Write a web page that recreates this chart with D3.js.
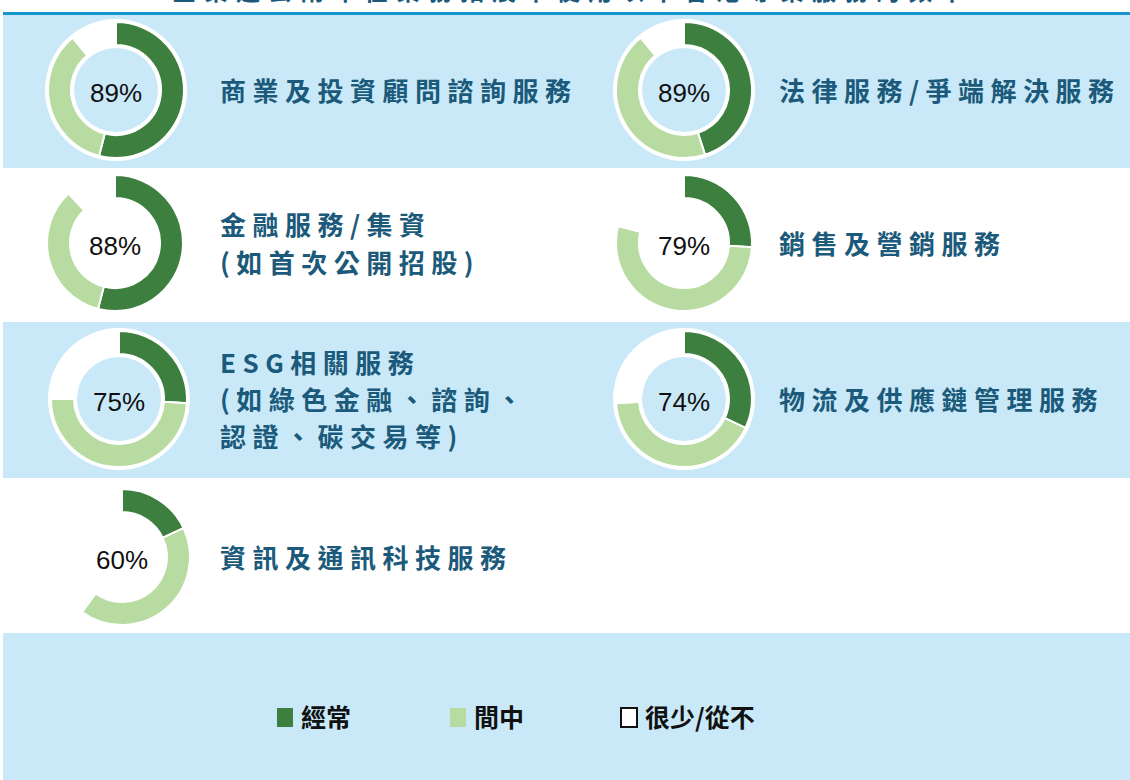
<!DOCTYPE html>
<html>
<head>
<meta charset="utf-8">
<script src="https://cdn.jsdelivr.net/npm/d3@7/dist/d3.min.js"></script>
<style>
  html, body { margin: 0; padding: 0; background: #ffffff; }
  svg { display: block; }
</style>
</head>
<body>
<svg id="chart" width="1130" height="780"></svg>
<script>
// ---- data ----
const title = "企業過去兩年在業務拓展中使用以下香港專業服務的頻率";
const categories = [
  "商業及投資顧問諮詢服務",
  "法律服務/爭端解決服務",
  "金融服務/集資\n(如首次公開招股)",
  "銷售及營銷服務",
  "ESG相關服務\n(如綠色金融、諮詢、\n認證、碳交易等)",
  "物流及供應鏈管理服務",
  "資訊及通訊科技服務"
];
const frequent   = [54, 45, 54, 26, 26, 32, 18];   // 經常
const occasional = [35, 44, 34, 53, 49, 42, 42];   // 間中
const rarely     = [11, 11, 12, 21, 25, 26, 40];   // 很少/從不
const totalLabels = ["89%", "89%", "88%", "79%", "75%", "74%", "60%"];
const seriesNames = ["經常", "間中", "很少/從不"];

// ---- style ----
const colors = ["#3d7f3e", "#b8dba2", "#ffffff"];
const bandBlue = "#c9e9f8";
const labelColor = "#1b5a7a";

const svg = d3.select("#chart");
const W = 1130, H = 780;

// row bands
const bands = [
  {y0: 15, y1: 168, fill: bandBlue},
  {y0: 168, y1: 322, fill: "#ffffff"},
  {y0: 322, y1: 478, fill: bandBlue},
  {y0: 478, y1: 633, fill: "#ffffff"},
  {y0: 633, y1: 780, fill: bandBlue}
];
svg.selectAll("rect.band").data(bands).join("rect")
  .attr("class", "band")
  .attr("x", 3).attr("y", d => d.y0)
  .attr("width", W - 3).attr("height", d => d.y1 - d.y0)
  .attr("fill", d => d.fill);

// top rule
svg.append("rect").attr("x", 3).attr("y", 12).attr("width", W - 3).attr("height", 3).attr("fill", "#1a96cf");

// title (cut off at top edge, as in the source)
svg.append("text")
  .attr("x", 572).attr("y", 0)
  .attr("text-anchor", "middle")
  .style("font-family", "'Noto Sans CJK TC', sans-serif")
  .style("font-weight", "bold")
  .style("font-size", "24px")
  .style("letter-spacing", "8px")
  .attr("fill", labelColor)
  .text(title);

// layout
const leftX = [116, 115, 119, 122];
const rightX = 684;
const rowY = d3.scaleOrdinal().domain([0, 1, 2, 3]).range([90, 243, 399, 557]);
const labelX = d3.scaleOrdinal().domain([0, 1]).range([220, 779]);
const cxOf = d => d.col === 0 ? leftX[d.row] : rightX;

const pie = d3.pie().sort(null).value(d => d.v).startAngle(0).endAngle(2 * Math.PI);
const arc = d3.arc().innerRadius(45).outerRadius(68);

const items = categories.map((c, i) => ({
  name: c,
  lines: c.split("\n"),
  vals: [frequent[i], occasional[i], rarely[i]].map((v, k) => ({v, k})),
  total: totalLabels[i],
  col: i % 2,
  row: Math.floor(i / 2)
}));

const g = svg.selectAll("g.donut").data(items).join("g")
  .attr("class", "donut")
  .attr("transform", d => `translate(${cxOf(d)},${rowY(d.row)})`);

// white base disk
g.append("circle").attr("r", 71).attr("fill", "#ffffff");

g.selectAll("path").data(d => pie(d.vals)).join("path")
  .attr("d", arc)
  .attr("fill", d => colors[d.data.k])
  .attr("stroke", "#ffffff")
  .attr("stroke-width", 2);

// inner disk in row background
g.append("circle").attr("r", 42)
  .attr("fill", d => bands[d.row].fill);

g.append("text")
  .attr("text-anchor", "middle")
  .attr("y", 3)
  .attr("dy", "0.36em")
  .style("font-family", "'Liberation Sans', Arial, sans-serif")
  .style("font-size", "26px")
  .attr("fill", "#111111")
  .text(d => d.total);

// category labels
svg.selectAll("text.cat").data(items).join("text")
  .attr("class", "cat")
  .style("font-family", "'Noto Sans CJK TC', sans-serif")
  .style("font-weight", "bold")
  .style("font-size", "26px")
  .style("letter-spacing", "6.5px")
  .attr("fill", labelColor)
  .each(function(d) {
    const t = d3.select(this);
    const n = d.lines.length;
    const lh = n === 2 ? 38 : 37;
    d.lines.forEach((ln, j) => {
      t.append("tspan")
        .attr("x", labelX(d.col))
        .attr("y", rowY(d.row) + 2 + (j - (n - 1) / 2) * lh)
        .attr("dy", "0.35em")
        .text(ln);
    });
  });

// legend
const legendX = d3.scaleOrdinal().domain([0, 1, 2]).range([277, 450, 621]);
const lg = svg.selectAll("g.legend").data(seriesNames).join("g")
  .attr("class", "legend")
  .attr("transform", (d, i) => `translate(${legendX(i)},718)`);
lg.append("rect")
  .attr("x", 0).attr("y", -10)
  .attr("width", 16).attr("height", 19)
  .attr("fill", (d, i) => colors[i])
  .attr("stroke", (d, i) => i === 2 ? "#111111" : "none")
  .attr("stroke-width", 2);
lg.append("text")
  .attr("x", 24).attr("y", 0).attr("dy", "0.36em")
  .style("font-family", "'Noto Sans CJK TC', sans-serif")
  .style("font-weight", "bold")
  .style("font-size", "25px")
  .attr("fill", "#111111")
  .text(d => d);
</script>
</body>
</html>
